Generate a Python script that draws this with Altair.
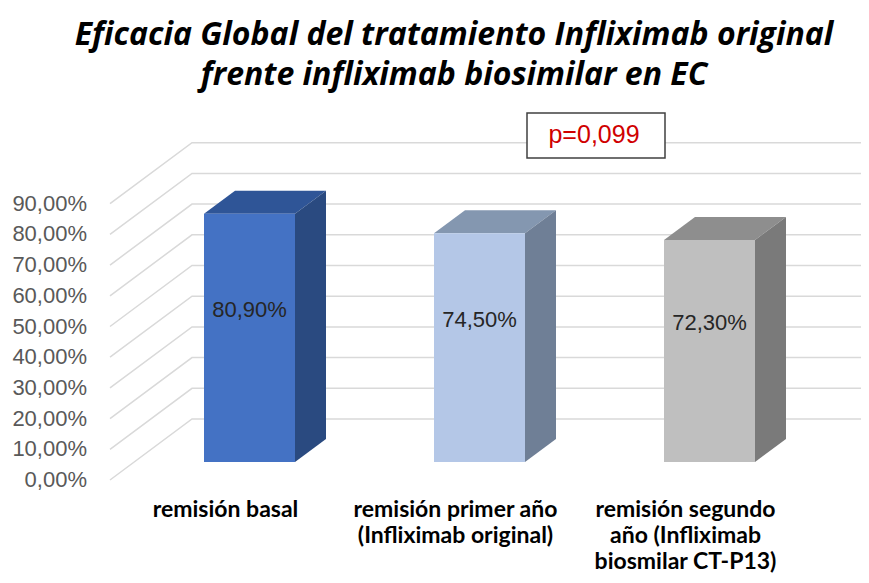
import altair as alt
import pandas as pd

# ---------------- data ----------------
categories = [
    "remisión basal",
    "remisión primer año\n(Infliximab original)",
    "remisión segundo\naño (Infliximab\nbiosmilar CT-P13)",
]
values = [80.9, 74.5, 72.3]
value_labels = ["80,90%", "74,50%", "72,30%"]
front_colors = ["#4472C4", "#B4C7E7", "#BFBFBF"]
top_colors = ["#2F5597", "#8497B0", "#8E8E8E"]
side_colors = ["#2A4A80", "#6F7F96", "#7A7A7A"]
tick_values = [0, 10, 20, 30, 40, 50, 60, 70, 80, 90]
tick_labels = ["0,00%", "10,00%", "20,00%", "30,00%", "40,00%",
               "50,00%", "60,00%", "70,00%", "80,00%", "90,00%"]
title_lines = ["Eficacia Global del tratamiento Infliximab original",
               "frente infliximab biosimilar en EC"]
p_text = "p=0,099"

# ---------------- layout (projection parameters) ----------------
W, H = 853, 567
X0, SPACING = 241.5, 230.0     # pixel position of first category, category spacing
Y0, SY = 454.0, 3.07           # pixel of 0 % on the bar-front plane, px per %

def ux(px):
    return px / SPACING

def uy(px):
    return px / SY

BAR_HALF = ux(45.5)
DEPTH_DX, DEPTH_DY = ux(31), uy(23)
BACK_DX, BACK_DY = ux(58), uy(43)
FRONT_DX, FRONT_DY = ux(-24), uy(-18)
GRID_LEFT = ux(-139.5)
XMIN, XMAX = -X0 / SPACING, (W - X0) / SPACING
YMIN, YMAX = -(H - Y0) / SY, Y0 / SY

xs = alt.Scale(domain=[XMIN, XMAX], nice=False, zero=False)
ys = alt.Scale(domain=[YMIN, YMAX], nice=False, zero=False)

# ---------------- tables ----------------
grid_rows = []
for t in tick_values:
    pts = [(GRID_LEFT, t + FRONT_DY),
           (GRID_LEFT + BACK_DX - FRONT_DX, t + BACK_DY),
           (XMAX, t + BACK_DY)]
    for k, (x, y) in enumerate(pts):
        grid_rows.append({"tick": t, "k": k, "x": x, "y": y})
grid_df = pd.DataFrame(grid_rows)

front_rows, face_rows, label_rows = [], [], []
for i, (cat, v) in enumerate(zip(categories, values)):
    xl, xr = i - BAR_HALF, i + BAR_HALF
    front_rows.append({"x": xl, "x2": xr, "y": 0.0, "y2": v, "c": front_colors[i]})
    # top face
    for x, yt, yb in [(xl, v, v), (xl + DEPTH_DX, v + DEPTH_DY, v),
                      (xr, v + DEPTH_DY, v), (xr + DEPTH_DX, v + DEPTH_DY, v + DEPTH_DY)]:
        face_rows.append({"face": f"top{i}", "x": x, "yt": yt, "yb": yb, "c": top_colors[i]})
    # side face
    for x, yt, yb in [(xr, v, 0.0), (xr + DEPTH_DX, v + DEPTH_DY, DEPTH_DY)]:
        face_rows.append({"face": f"side{i}", "x": x, "yt": yt, "yb": yb, "c": side_colors[i]})
    label_rows.append({"x": float(i), "y": v / 2, "txt": value_labels[i],
                       "cat": cat.split("\n"), "cx": i + FRONT_DX, "cy": FRONT_DY})
front_df = pd.DataFrame(front_rows)
face_df = pd.DataFrame(face_rows)
label_df = pd.DataFrame(label_rows)

tick_df = pd.DataFrame({"y": [t + FRONT_DY for t in tick_values],
                        "x": [GRID_LEFT - ux(23)] * len(tick_values),
                        "txt": tick_labels})

# ---------------- layers ----------------
grid = alt.Chart(grid_df).mark_line(color="#D9D9D9", strokeWidth=1.5).encode(
    x=alt.X("x:Q", scale=xs, axis=None),
    y=alt.Y("y:Q", scale=ys, axis=None),
    detail="tick:N",
    order="k:Q",
)

faces = alt.Chart(face_df).mark_area(strokeWidth=0).encode(
    x=alt.X("x:Q", scale=xs, axis=None),
    y=alt.Y("yt:Q", scale=ys, axis=None, stack=None),
    y2="yb:Q",
    detail="face:N",
    fill=alt.Fill("c:N", scale=None),
)

fronts = alt.Chart(front_df).mark_rect().encode(
    x=alt.X("x:Q", scale=xs, axis=None),
    x2="x2:Q",
    y=alt.Y("y:Q", scale=ys, axis=None),
    y2="y2:Q",
    fill=alt.Fill("c:N", scale=None),
)

val_text = alt.Chart(label_df).mark_text(
    font="Liberation Sans", fontSize=22, color="#262626", dy=-28
).encode(
    x=alt.X("x:Q", scale=xs, axis=None),
    y=alt.Y("y:Q", scale=ys, axis=None),
    text="txt:N",
)

cat_text = alt.Chart(label_df).mark_text(
    font="Lato", fontWeight="bold", fontSize=23, color="#000000",
    baseline="alphabetic", align="center", lineHeight=26, dy=37
).encode(
    x=alt.X("cx:Q", scale=xs, axis=None),
    y=alt.Y("cy:Q", scale=ys, axis=None),
    text="cat",
)

tick_text = alt.Chart(tick_df).mark_text(
    font="Liberation Sans", fontSize=22, color="#595959", align="right", baseline="middle"
).encode(
    x=alt.X("x:Q", scale=xs, axis=None),
    y=alt.Y("y:Q", scale=ys, axis=None),
    text="txt:N",
)

ann_df = pd.DataFrame({"txt": [p_text]})
p_box = alt.Chart(ann_df).mark_rect(fill="white", stroke="#404040", strokeWidth=1.5).encode(
    x=alt.value(519), x2=alt.value(657), y=alt.value(105), y2=alt.value(150)
)
p_lbl = alt.Chart(ann_df).mark_text(
    font="Liberation Sans", fontSize=25, color="#D00000", baseline="middle"
).encode(x=alt.value(586), y=alt.value(127), text="txt:N")

title_df = pd.DataFrame({"t": [title_lines]})
title = alt.Chart(title_df).mark_text(
    font="Open Sans", fontSize=32, fontWeight="bold", fontStyle="italic", color="#000000",
    baseline="alphabetic", align="center", lineHeight=40
).encode(x=alt.value(446), y=alt.value(37), text="t")

chart = alt.layer(grid, faces, fronts, val_text, cat_text, tick_text, p_box, p_lbl, title).properties(
    width=W, height=H, padding=0,
    autosize=alt.AutoSizeParams(type="none"),
    background="white",
).configure_view(stroke=None)

chart.save("out.html", embed_options={"renderer": "svg", "actions": False})
